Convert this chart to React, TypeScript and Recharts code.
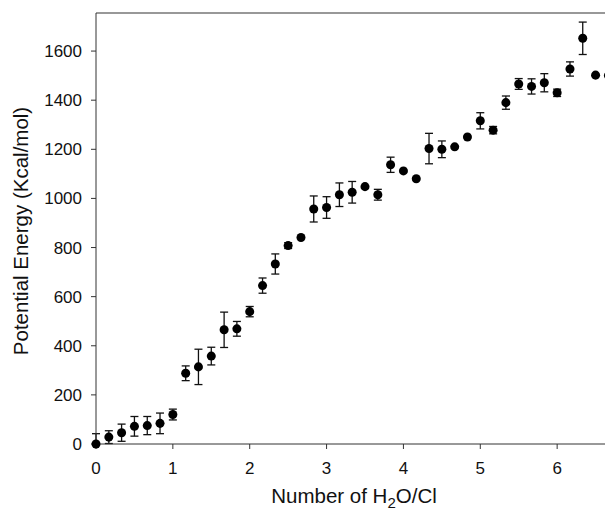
import { ErrorBar, ReferenceLine, Scatter, ScatterChart, XAxis, YAxis, ZAxis } from "recharts";

// number of waters per chloride (x) and potential energy in kcal/mol (y)
const waterRatio = [
    0, 0.167, 0.333, 0.5, 0.667, 0.833, 1, 1.167, 1.333, 1.5, 1.667, 1.833, 2, 2.167,
    2.333, 2.5, 2.667, 2.833, 3, 3.167, 3.333, 3.5, 3.667, 3.833, 4, 4.167, 4.333, 4.5,
    4.667, 4.833, 5, 5.167, 5.333, 5.5, 5.667, 5.833, 6, 6.167, 6.333, 6.5, 6.667,
];
const energy = [
    0, 28, 46, 72, 75, 84, 120, 288, 314, 358, 465, 469, 539, 645,
    733, 808, 841, 957, 963, 1015, 1025, 1048, 1015, 1137, 1112, 1080, 1203, 1200,
    1210, 1250, 1316, 1278, 1390, 1466, 1456, 1471, 1430, 1527, 1652, 1502, 1500,
];
// error bars: a number is symmetric, [low, high] otherwise
const energyError: (number | [number, number])[] = [
    [0, 42], 26, 35, 40, 37, 42, 22, 30, 72, 36, 72, 30, 21, 31,
    41, 12, 0, 53, 44, 48, 44, 0, 22, 31, 0, 0, 62, 34,
    0, 0, 33, 15, 27, 22, 31, 37, 15, 29, 66, 0, 0,
];

const xTicks = [0, 1, 2, 3, 4, 5, 6];
const yTicks = [0, 200, 400, 600, 800, 1000, 1200, 1400, 1600];

const data = waterRatio.map((x, i) => ({ x, y: energy[i], err: energyError[i] }));

const FONT = "'Liberation Sans', Arial, Helvetica, sans-serif";
const INK = "#111";

const XTitle = (props: any) => {
    const { viewBox } = props;
    const cx = viewBox.x + 258;
    const y = viewBox.y + 59;
    return (
        <text x={cx} y={y} textAnchor="middle" fontFamily={FONT} fontSize={20.5} fill={INK}>
            Number of H
            <tspan dy={5} fontSize={15}>2</tspan>
            <tspan dy={-5}>O/Cl</tspan>
        </text>
    );
};

const YTitle = () => (
    <text
        x={28}
        y={231}
        transform="rotate(-90, 28, 231)"
        textAnchor="middle"
        fontFamily={FONT}
        fontSize={20.5}
        fill={INK}
    >
        Potential Energy (Kcal/mol)
    </text>
);

export default function App() {
    return (
        <div
            style={{
                position: "absolute",
                left: 0,
                top: 0,
                width: 605,
                height: 513,
                overflow: "hidden",
                background: "#fff",
            }}
        >
            <ScatterChart width={650} height={513} margin={{ top: 13, right: 16, bottom: 0, left: 0 }}>
                <XAxis
                    type="number"
                    dataKey="x"
                    domain={[0, 7]}
                    ticks={xTicks}
                    height={69}
                    tickSize={5}
                    tickMargin={13}
                    stroke="#333"
                    tick={{ fill: INK, fontSize: 17, fontFamily: FONT }}
                    label={{ content: <XTitle /> }}
                />
                <YAxis
                    type="number"
                    dataKey="y"
                    domain={[0, 1755]}
                    ticks={yTicks}
                    width={96}
                    tickSize={5}
                    tickMargin={9}
                    stroke="#333"
                    tick={{ fill: INK, fontSize: 17, fontFamily: FONT }}
                    label={{ content: <YTitle /> }}
                />
                <ZAxis range={[95, 95]} />
                <ReferenceLine y={1755} stroke="#333" strokeWidth={1.2} />
                <Scatter data={data} fill="#000" isAnimationActive={false}>
                    <ErrorBar dataKey="err" direction="y" width={4} stroke={INK} strokeWidth={1.3} />
                </Scatter>
            </ScatterChart>
        </div>
    );
}
